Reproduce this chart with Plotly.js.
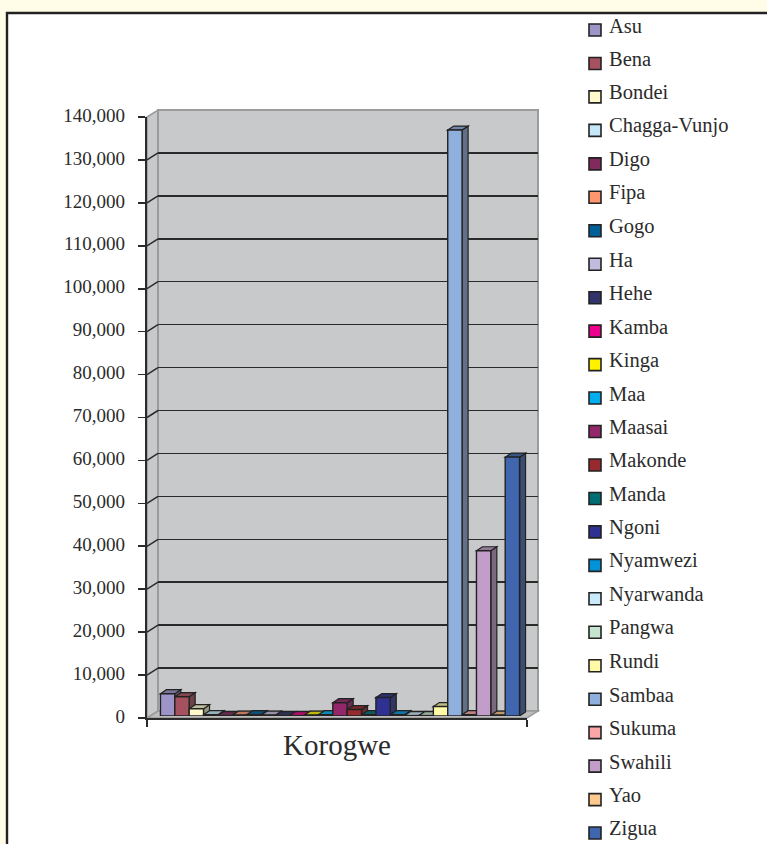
<!DOCTYPE html>
<html>
<head>
<meta charset="utf-8">
<script src="https://cdn.plot.ly/plotly-3.0.1.min.js"></script>
<style>html,body{margin:0;padding:0;overflow:hidden;background:#FFFCE8}</style>
</head>
<body>
<div id="chart" style="width:767px;height:844px"></div>
<script>
const category = 'Korogwe';
const seriesNames = ['Asu','Bena','Bondei','Chagga-Vunjo','Digo','Fipa','Gogo','Ha','Hehe','Kamba','Kinga','Maa','Maasai','Makonde','Manda','Ngoni','Nyamwezi','Nyarwanda','Pangwa','Rundi','Sambaa','Sukuma','Swahili','Yao','Zigua'];
const seriesValues = [5200,4500,1700,300,100,200,300,200,100,100,200,300,3100,1500,300,4300,300,100,100,2200,136500,300,38500,200,60300];
const seriesColors = ['#9D94C8','#A5515F','#FFFBCC','#C5E8F8','#832A5C','#FF9670','#005F96','#C2BBDD','#33336B','#EC008C','#FFF200','#00AEEF','#92276A','#97292F','#006F75','#2E3192','#0093D9','#C8EAFB','#C6E3D0','#FFF9A8','#8FB0DC','#FAA5A8','#C29DC9','#FDC98F','#3F66AE'];
const yMax = 140000, yStep = 10000;

// pixel geometry of the pseudo-3D box
const W = 767, H = 844, L = 147, R = 538, T = 110, B = 718;
const PW = R - L, PH = B - T;
const px = x => (x - L) / PW, py = y => (B - y) / PH;
const FONT = '"Liberation Serif", serif', INK = '#2b2b2b', WALL = '#C8C9CB', EDGE = '#9B9B9B';
const BARGAP = 0.055, DX = 6, DY = 4;

function shade(hex, f, grey) {
  const n = parseInt(hex.slice(1), 16), g = grey || 0;
  const c = [n >> 16, (n >> 8) & 255, n & 255].map(v => Math.round(v * f * (1 - g) + 128 * g));
  return `rgb(${c[0]},${c[1]},${c[2]})`;
}
const pxPoly = pts => 'M' + pts.map(p => px(p[0]) + ',' + py(p[1])).join('L') + 'Z';
const shapes = [];
const poly = (pts, fill, color, width, layer) => shapes.push({type:'path', xref:'paper', yref:'paper', path:pxPoly(pts), fillcolor:fill, line:{color:color, width:width}, layer:layer||'below'});

// frame
poly([[7,13],[W+10,13],[W+10,H+10],[7,H+10]], '#FFFFFF', '#222222', 2.4);
// walls and floor
poly([[147,117],[158,110],[158,711],[147,718]], WALL, EDGE, 1.5);
poly([[158,110],[538,110],[538,711],[158,711]], WALL, EDGE, 2);
poly([[147,718],[158,711],[538,711],[527,718]], '#BDBDBD', EDGE, 1.5);

// diagonal tick continuations from the axis to the back wall
for (let v = yStep; v < yMax; v += yStep) {
  const y = 718 - v * 601 / yMax;
  shapes.push({type:'line', xref:'paper', yref:'paper', x0:px(147), y0:py(y), x1:px(158), y1:py(y-7), line:{color:INK, width:1.5}, layer:'below'});
}

// depth faces of the bars, computed from the values on the bar axes
const unitX = 1 / 380, unitY = yMax / 601;
const slot = (1 - BARGAP) / seriesValues.length;
seriesValues.forEach((v, i) => {
  const x0 = -0.5 + BARGAP / 2 + i * slot, x1 = x0 + slot;
  const ddx = DX * unitX, ddy = DY * unitY;
  const face = (pts, fill) => shapes.push({type:'path', xref:'x3', yref:'y3', layer:'between',
    path:'M' + pts.map(p => p[0] + ',' + p[1]).join('L') + 'Z', fillcolor:fill, line:{color:'#222222', width:1.2}});
  face([[x1,0],[x1+ddx,ddy],[x1+ddx,v+ddy],[x1,v]], shade(seriesColors[i], 0.62, 0.22));
  face([[x0,v],[x0+ddx,v+ddy],[x1+ddx,v+ddy],[x1,v]], shade(seriesColors[i], 0.78, 0.1));
});

// legend drawn to the reference's spacing
const annotations = [];
const legendTop = 30, legendPitch = 33.46;
seriesNames.forEach((name, i) => {
  const cy = legendTop + i * legendPitch;
  poly([[589,cy-6],[601,cy-6],[601,cy+6],[589,cy+6]], seriesColors[i], '#222222', 1.6, 'above');
  annotations.push({xref:'paper', yref:'paper', x:px(606.5), y:py(cy-4.5), xanchor:'left', yanchor:'middle', showarrow:false,
    text:name, font:{family:FONT, size:20.5, color:INK}});
});

const traces = seriesNames.map((name, i) => ({
  type:'bar', name:name, x:[category], y:[seriesValues[i]], xaxis:'x3', yaxis:'y3',
  marker:{color:seriesColors[i], line:{color:'#222222', width:1.4}}, showlegend:false
}));
// empty traces that carry the visible category axis and the back wall's grid
traces.unshift({type:'scatter', mode:'lines', x:[0], y:[null], xaxis:'x2', yaxis:'y2', showlegend:false, hoverinfo:'skip'});
traces.unshift({type:'bar', x:[category], y:[null], xaxis:'x', yaxis:'y', showlegend:false, hoverinfo:'skip'});

const layout = {
  width:W, height:H, autosize:false, showlegend:false,
  margin:{l:L, r:W-R, t:T, b:H-B, pad:0},
  paper_bgcolor:'#FFFCE8', plot_bgcolor:'rgba(0,0,0,0)',
  font:{family:FONT, color:INK},
  barmode:'group', bargap:BARGAP, bargroupgap:0,
  // front plane: axis lines and tick marks
  xaxis:{domain:[0,380/PW], anchor:'y', type:'category', range:[-0.5,0.5], tickson:'boundaries', ticks:'outside', ticklen:7, tickwidth:1.6, tickcolor:INK,
    showline:true, linecolor:INK, linewidth:2, showgrid:false, zeroline:false, fixedrange:true, tickfont:{family:FONT, size:29, color:INK}},
  yaxis:{domain:[0,601/PH], anchor:'x', range:[0,yMax], dtick:yStep, tick0:0, ticks:'outside', ticklen:7, tickwidth:1.6, tickcolor:INK, showticklabels:false,
    showline:true, linecolor:INK, linewidth:1.6, showgrid:false, zeroline:false, fixedrange:true},
  // back wall: carries the gridlines
  xaxis2:{domain:[11/PW,1], anchor:'y2', range:[0,1], visible:false, fixedrange:true},
  yaxis2:{domain:[7/PH,1], anchor:'x2', range:[0,yMax], dtick:yStep, tick0:0, showgrid:true, gridcolor:'#2a2a2a', gridwidth:1.5, zeroline:false, showticklabels:false, ticks:'', showline:false, fixedrange:true},
  // bars: set slightly into the box depth; this axis also carries the value labels
  xaxis3:{domain:[3/PW,383/PW], anchor:'y3', type:'category', range:[-0.5,0.5], visible:false, fixedrange:true},
  yaxis3:{domain:[2/PH,603/PH], anchor:'x3', range:[0,yMax], dtick:yStep, tick0:0, tickformat:',d', ticks:'', showline:false, showgrid:false, zeroline:false, ticklabelstandoff:24, fixedrange:true,
    tickfont:{family:FONT, size:19, color:INK}},
  shapes:shapes, annotations:annotations
};
Plotly.newPlot('chart', traces, layout, {displayModeBar:false, staticPlot:true});
</script>
</body>
</html>
